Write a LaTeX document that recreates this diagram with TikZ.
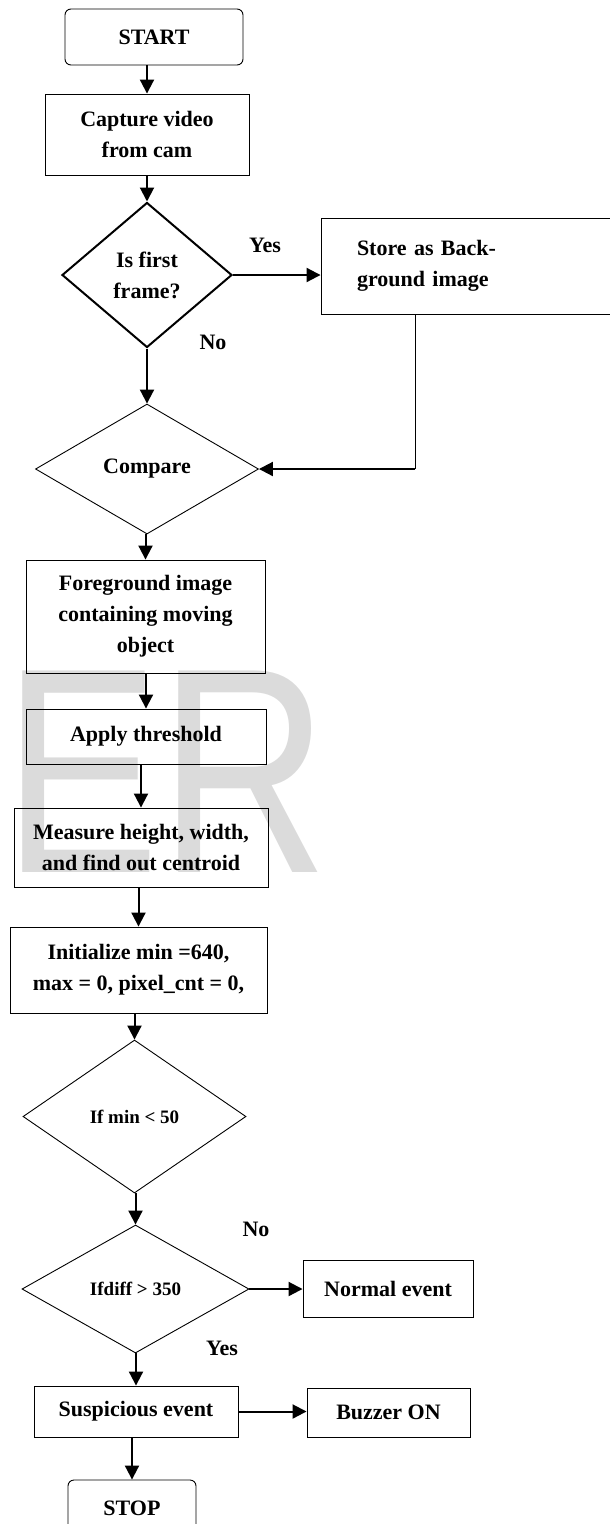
\documentclass[tikz,border=0pt]{standalone}
\usepackage{fontspec}
\setmainfont{Liberation Serif}
\newfontfamily\wmfont{Liberation Sans}
\usetikzlibrary{shapes.geometric,arrows.meta}

\begin{document}
\begin{tikzpicture}[x=1pt,y=-1pt,
  every node/.style={font=\bfseries\fontsize{22}{31}\selectfont,align=center},
  box/.style={draw,line width=0.9pt,inner sep=2pt},
  term/.style={box,rounded corners=6pt},
  decide/.style={draw,diamond,inner sep=0pt,line width=0.9pt},
  small/.style={font=\bfseries\fontsize{19}{24}\selectfont},
  lab/.style={font=\bfseries\fontsize{22}{24}\selectfont},
  arr/.style={line width=2pt,-{Triangle[length=14pt,width=14pt]}}]
  \useasboundingbox (0,0) rectangle (610,1524);
  \clip (0,0) rectangle (610,1524);
  \node[font=\wmfont\fontsize{293}{293}\selectfont,text=black!14,anchor=base west,xscale=0.8,inner sep=0pt] (wm) at (3,872) {ER};

  \node[term,minimum width=178pt,minimum height=56pt] (start) at (154,37) {START};
  \node[box,minimum width=204pt,minimum height=81pt] (capture) at (147,134.5) {Capture video\\from cam};
  \node[decide,line width=2pt,minimum width=170pt,minimum height=145pt] (first) at (147,275) {Is first\\frame?};
  \node[box,minimum width=309pt,minimum height=96pt,text width=237pt,align=left] (store) at (475.5,266) {Store as Back-\\ground image};
  \node[decide,minimum width=223pt,minimum height=130pt] (compare) at (147,469) {Compare};
  \node[box,minimum width=239pt,minimum height=113pt] (fg) at (145.5,616.5) {Foreground image\\containing moving\\object};
  \node[box,minimum width=240pt,minimum height=55pt] (apply) at (146,736.5) {Apply threshold};
  \node[box,minimum width=254pt,minimum height=79pt] (measure) at (141,847.5) {Measure height, width,\\and find out centroid};
  \node[box,minimum width=257pt,minimum height=86pt] (init) at (138.5,970) {Initialize min =640,\\max = 0, pixel\_cnt = 0,};
  \node[decide,small,minimum width=223pt,minimum height=153pt] (ifmin) at (134.5,1116.5) {If min < 50};
  \node[decide,small,minimum width=227pt,minimum height=128pt] (ifdiff) at (135.5,1289) {Ifdiff > 350};
  \node[box,minimum width=170pt,minimum height=57pt] (normal) at (388,1288.5) {Normal event};
  \node[box,minimum width=204pt,minimum height=51pt] (susp) at (136,1411.5) {Suspicious event};
  \node[box,minimum width=163pt,minimum height=49pt] (buzzer) at (388.5,1412.5) {Buzzer ON};
  \node[term,minimum width=128pt,minimum height=56pt] (stop) at (132,1508) {STOP};

  \node[lab] (yes1) at (265,245) {Yes};
  \node[lab] (no1) at (213,342) {No};
  \node[lab] (no2) at (256,1229) {No};
  \node[lab] (yes2) at (222,1348) {Yes};

  \foreach \a/\b in {start/capture,capture/first,first/compare,compare/fg,fg/apply,apply/measure,measure/init,init/ifmin,ifmin/ifdiff,ifdiff/susp,susp/stop}
    \draw[arr] (\b.north |- \a.south) -- (\b.north);
  \draw[arr] (first.east) -- (first.east -| store.west);
  \coordinate (bend) at (415,469);
  \draw[line width=0.9pt] (store.south -| bend) -- (bend);
  \draw[arr] (bend) -- (compare.east);
  \draw[arr] (ifdiff.east) -- (ifdiff.east -| normal.west);
  \draw[arr] (susp.east) -- (susp.east -| buzzer.west);
\end{tikzpicture}
\end{document}
